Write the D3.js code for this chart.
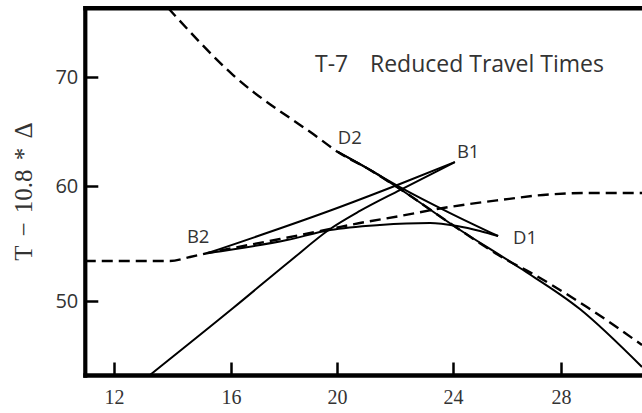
<!DOCTYPE html>
<html><head><meta charset="utf-8">
<script src="https://cdn.jsdelivr.net/npm/d3@7"></script>
<style>
html,body{margin:0;padding:0;background:#fff;}
svg{display:block;}
</style></head><body>
<svg id="chart" width="642" height="413"></svg>
<script>
// ---------- data ----------
const xTicks = [12, 16, 20, 24, 28];
const yTicks = [50, 60, 70];
const titleParts = ["T-7", "Reduced Travel Times"];
const yAxisTitle = "T \u2212 10.8 * \u0394";

// dashed reference curves  [x, T-10.8*Δ]
const dashD = [[13.85,76.33],[16.08,70.18],[19.25,64.50],[20.03,63.12],[21.14,61.47],[22.17,59.74],[24.15,56.35],[25.93,53.65],[26.96,52.35],[28.96,49.48],[31.0,46.17]];
const dashB = [[11.0,53.48],[13.91,53.48],[14.60,53.83],[15.21,54.17],[17.85,55.39],[19.74,56.26],[20.79,56.78],[22.17,57.39],[23.66,58.09],[25.74,58.78],[27.33,59.22],[29.07,59.39],[31.0,59.39]];

// solid curves
const lineD2Low = [[20.03,63.12],[21.14,61.47],[22.17,59.74],[24.15,56.35],[26.48,52.87],[28.70,49.30],[31.0,44.26]];
const lineD2D1  = [[20.03,63.12],[21.14,61.47],[22.17,59.91],[23.90,57.65],[25.67,55.65]];
const lineB2B1  = [[15.21,54.17],[20.10,58.17],[22.17,60.18],[24.07,62.20]];
const lineB2D1  = [[15.21,54.17],[18.11,55.30],[19.74,56.17],[21.48,56.61],[23.21,56.78],[24.15,56.52],[25.0,56.09],[25.67,55.65]];
const lineRise  = [[13.23,43.57],[16.08,49.39],[18.23,53.48],[19.74,56.26],[20.79,57.83],[22.17,59.65],[24.07,62.20]];

// point labels (anchor in data units)
const pointNames = ["D2", "B1", "B2", "D1"];
const pointAnchors = [[20.03,63.12],[24.07,62.20],[15.21,54.17],[25.67,55.65]];

// ---------- layout ----------
const W = 642, H = 413;
const frame = {left: 85.3, right: 642, top: 8.3, bottom: 375.5};
const labelOffsets = [[0,-7.5],[2,-4],[-21,-10],[15,8]];

const x = d3.scaleLinear().domain(xTicks).range([114, 231, 337, 453, 561]);
const y = d3.scaleLinear().domain(yTicks).range([301, 186, 77]);

const svg = d3.select("#chart");

svg.append("defs").append("clipPath").attr("id","plotclip")
  .append("rect")
  .attr("x", frame.left).attr("y", frame.top)
  .attr("width", frame.right - frame.left).attr("height", frame.bottom - frame.top);

const plot = svg.append("g").attr("clip-path","url(#plotclip)");

const line = d3.line().x(d => x(d[0])).y(d => y(d[1])).curve(d3.curveMonotoneX);

[dashD, dashB].forEach(s => {
  plot.append("path").attr("d", line(s))
    .attr("fill","none").attr("stroke","#000")
    .attr("stroke-width", 2.4).attr("stroke-dasharray","11,6");
});

[lineD2Low, lineD2D1, lineB2B1, lineB2D1, lineRise].forEach(s => {
  plot.append("path").attr("d", line(s))
    .attr("fill","none").attr("stroke","#000")
    .attr("stroke-width", 2).attr("stroke-linejoin","round");
});

// axes
const gx = svg.append("g").attr("transform", `translate(0,${frame.bottom})`)
  .call(d3.axisBottom(x).tickValues(xTicks).tickSize(-13).tickPadding(14).tickFormat(d3.format("d")));
gx.select(".domain").remove();
gx.selectAll(".tick line").attr("stroke","#000").attr("stroke-width",2.5);
gx.selectAll(".tick text").attr("font-family","'Liberation Serif','Times New Roman',serif")
  .attr("font-size",20).attr("fill","#333");

const gy = svg.append("g").attr("transform", `translate(${frame.left},0)`)
  .call(d3.axisLeft(y).tickValues(yTicks).tickSize(-13).tickPadding(7).tickFormat(d3.format("d")));
gy.select(".domain").remove();
gy.selectAll(".tick line").attr("stroke","#000").attr("stroke-width",2.5);
gy.selectAll(".tick text").attr("font-family","'Open Sans',sans-serif")
  .attr("font-size",20).attr("fill","#333");

// frame lines
svg.append("line").attr("x1",frame.left).attr("x2",frame.left)
  .attr("y1",frame.top-2.2).attr("y2",frame.bottom+2.2)
  .attr("stroke","#000").attr("stroke-width",4.2);
svg.append("line").attr("x1",frame.left-2).attr("x2",frame.right)
  .attr("y1",frame.top).attr("y2",frame.top)
  .attr("stroke","#000").attr("stroke-width",4.4);
svg.append("line").attr("x1",frame.left-2).attr("x2",frame.right)
  .attr("y1",frame.bottom).attr("y2",frame.bottom)
  .attr("stroke","#000").attr("stroke-width",4.4);

// title
const title = svg.append("text").attr("y", 72)
  .attr("font-family","'Open Sans',sans-serif").attr("font-size",23).attr("fill","#333");
title.append("tspan").attr("x", 315).text(titleParts[0]);
title.append("tspan").attr("x", 370).text(titleParts[1]);

// point labels
svg.selectAll("text.pt").data(pointNames).join("text").attr("class","pt")
  .attr("x", (d,i) => x(pointAnchors[i][0]) + labelOffsets[i][0])
  .attr("y", (d,i) => y(pointAnchors[i][1]) + labelOffsets[i][1])
  .attr("font-family","'Open Sans',sans-serif").attr("font-size",18.5).attr("fill","#333")
  .text(d => d);

// y axis title
svg.append("text")
  .attr("transform","translate(31.7,191.5) rotate(-90)")
  .attr("text-anchor","middle")
  .attr("font-family","'Liberation Serif','Times New Roman',serif")
  .attr("font-size",25).attr("fill","#333")
  .attr("word-spacing", 3)
  .text(yAxisTitle);
</script>
</body></html>
